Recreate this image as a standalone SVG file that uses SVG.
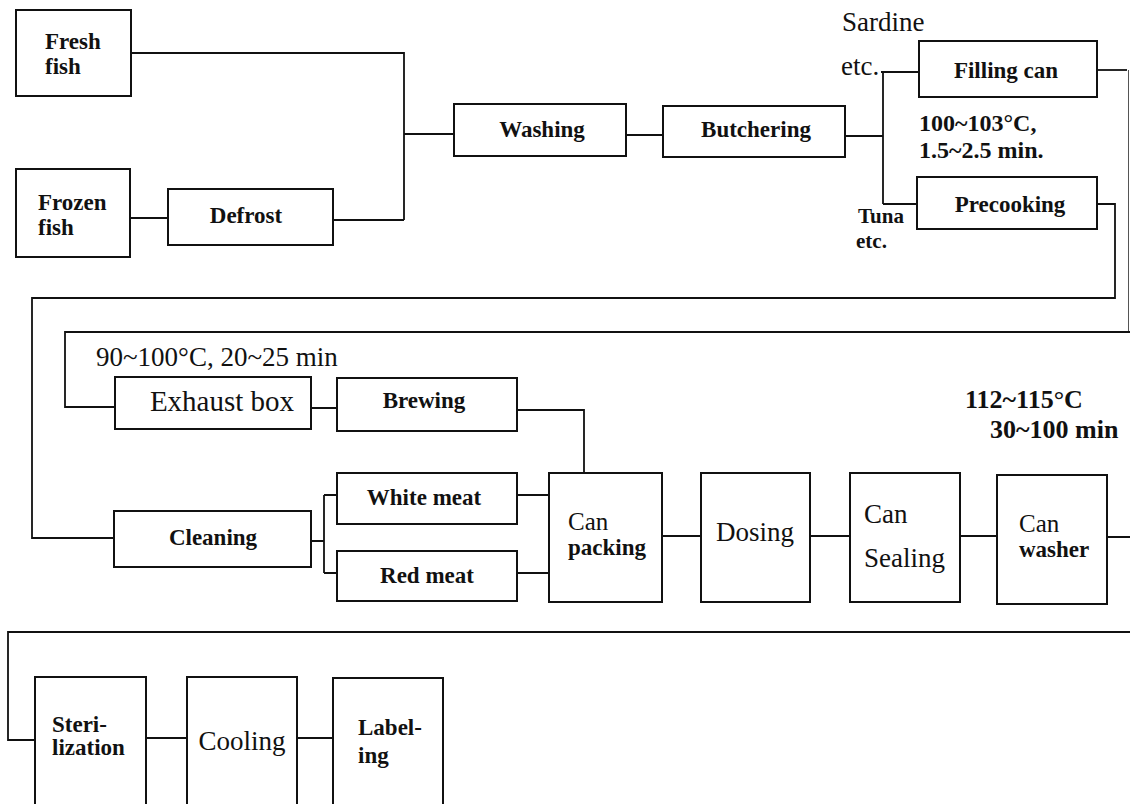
<svg xmlns="http://www.w3.org/2000/svg" width="1130" height="804" viewBox="0 0 1130 804">
<style>
.box{fill:#fff;stroke:#111;stroke-width:2}
.ln{fill:none;stroke:#111;stroke-width:1.8}
.faint{fill:none;stroke:#555;stroke-width:1}
text{font-family:"Liberation Serif","Times New Roman",serif;fill:#111}
.b{font-size:23px;font-weight:bold}
.r{font-size:27px}
.n{font-size:26px;font-weight:bold}
.m{text-anchor:middle}
</style>
<rect width="1130" height="804" fill="#fff"/>
<g id="connectors">
<path class="ln" d="M131,53H404V220M333,220H404M130,218H168M404,134H454M626,135H663M845,136H883M883,73V204M881,72H919M883,204H917"/>
<path class="ln" d="M1097,70H1127"/>
<path class="faint" d="M1128.5,70V332"/>
<path class="ln" d="M1130,332H65V407H115"/>
<path class="ln" d="M1097,204H1115V298H32V538H114"/>
<path class="ln" d="M311,408H337M517,410H584V473"/>
<path class="ln" d="M311,541H324M324,495V573M324,495H337M324,573H337M517,495H549M517,573H549"/>
<path class="ln" d="M662,536H701M810,536H850M960,536H997M1107,537H1130"/>
<path class="ln" d="M1130,632H8V740H35M146,738H187M297,738H333"/>
</g>
<g id="fresh-fish"><rect class="box" x="16" y="10" width="115" height="86"/><text class="b" x="45" y="49">Fresh</text><text class="b" x="45" y="74">fish</text></g>
<g id="frozen-fish"><rect class="box" x="16" y="169" width="114" height="88"/><text class="b" x="38" y="210">Frozen</text><text class="b" x="38" y="235">fish</text></g>
<g id="defrost"><rect class="box" x="168" y="189" width="165" height="56"/><text class="b m" x="246" y="223">Defrost</text></g>
<g id="washing"><rect class="box" x="454" y="104" width="172" height="52"/><text class="b m" x="542" y="137">Washing</text></g>
<g id="butchering"><rect class="box" x="663" y="106" width="182" height="51"/><text class="b m" x="756" y="137">Butchering</text></g>
<g id="filling-can"><rect class="box" x="919" y="41" width="178" height="56"/><text class="b m" x="1006" y="78">Filling can</text></g>
<g id="precooking"><rect class="box" x="917" y="177" width="180" height="52"/><text class="b m" x="1010" y="212">Precooking</text></g>
<g id="labels-top">
<text class="r" x="842" y="31">Sardine</text>
<text class="r" x="841" y="75">etc.</text>
<text class="n" x="919" y="131" style="font-size:24px">100~103°C,</text>
<text class="n" x="919" y="158" style="font-size:24px">1.5~2.5 min.</text>
<text class="b" x="858" y="223" style="font-size:21px">Tuna</text>
<text class="b" x="856" y="248" style="font-size:21px">etc.</text>
</g>
<g id="exhaust-box"><rect class="box" x="115" y="377" width="196" height="52"/><text class="r m" x="222" y="411" style="font-size:29px">Exhaust box</text></g>
<g id="brewing"><rect class="box" x="337" y="378" width="180" height="53"/><text class="b m" x="424" y="408">Brewing</text></g>
<text id="label-exhaust" x="96" y="366" style="font-size:27px">90~100°C, 20~25 min</text>
<g id="cleaning"><rect class="box" x="114" y="511" width="197" height="56"/><text class="b m" x="213" y="545">Cleaning</text></g>
<g id="white-meat"><rect class="box" x="337" y="473" width="180" height="51"/><text class="b m" x="424" y="505">White meat</text></g>
<g id="red-meat"><rect class="box" x="337" y="551" width="180" height="50"/><text class="b m" x="427" y="583">Red meat</text></g>
<g id="can-packing"><rect class="box" x="549" y="473" width="113" height="129"/><text class="b" x="568" y="530" style="font-weight:normal;font-size:25px">Can</text><text class="b" x="568" y="555">packing</text></g>
<g id="dosing"><rect class="box" x="701" y="473" width="109" height="129"/><text class="r m" x="755" y="541">Dosing</text></g>
<g id="can-sealing"><rect class="box" x="850" y="473" width="110" height="129"/><text class="r" x="864" y="523">Can</text><text class="r" x="864" y="567">Sealing</text></g>
<g id="can-washer"><rect class="box" x="997" y="475" width="110" height="129"/><text class="b" x="1019" y="532" style="font-weight:normal;font-size:25px">Can</text><text class="b" x="1019" y="557">washer</text></g>
<g id="label-sterilization-cond"><text class="n" x="965" y="408">112~115°C</text><text class="n" x="990" y="438">30~100 min</text></g>
<g id="sterilization"><rect class="box" x="35" y="677" width="111" height="135"/><text class="b" x="52" y="732">Steri-</text><text class="b" x="52" y="755">lization</text></g>
<g id="cooling"><rect class="box" x="187" y="677" width="110" height="135"/><text class="r m" x="242" y="750">Cooling</text></g>
<g id="labeling"><rect class="box" x="333" y="678" width="110" height="134"/><text class="b" x="358" y="735">Label-</text><text class="b" x="358" y="763">ing</text></g>
</svg>
